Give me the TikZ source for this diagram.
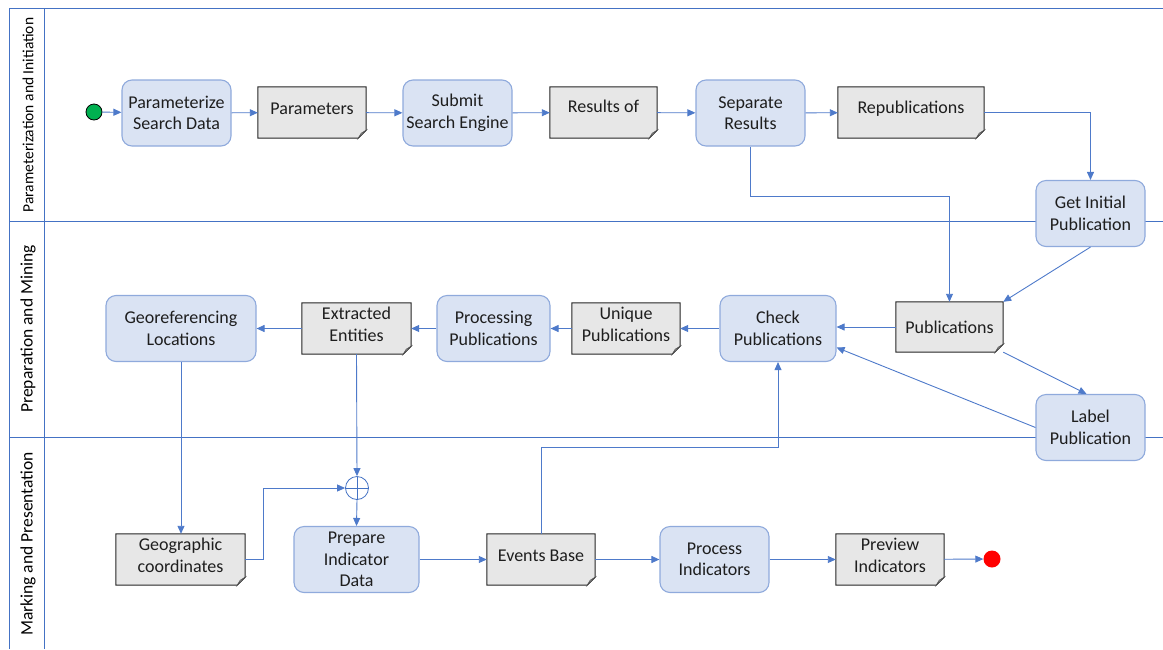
\documentclass[tikz,border=0pt]{standalone}
\usepackage{fontspec}
\setmainfont{Carlito}
\usetikzlibrary{arrows.meta,backgrounds}

\definecolor{lanecol}{RGB}{68,114,196}
\definecolor{flowcol}{RGB}{78,122,202}
\definecolor{taskfill}{RGB}{218,227,243}
\definecolor{taskline}{RGB}{143,170,220}
\definecolor{docfill}{RGB}{231,231,231}
\definecolor{foldfill}{RGB}{160,160,160}
\definecolor{txtcol}{RGB}{30,30,30}
\definecolor{startgreen}{RGB}{0,176,80}
\definecolor{endred}{RGB}{255,0,0}

\tikzset{
  txt/.style={text=txtcol, align=center, font=\fontsize{18}{21.5}\selectfont},
  task/.style={txt, draw=taskline, fill=taskfill, line width=1.1pt, rounded corners=10pt,
    minimum width=109pt, minimum height=66pt, inner sep=2pt},
  docbox/.style={minimum width=108pt, minimum height=51pt, inner sep=0pt},
  doclabel/.style={txt, inner sep=0pt, yshift=4pt},
  flow/.style={draw=flowcol, line width=0.9pt, -{Triangle[length=8pt,width=7pt]}},
  lane/.style={draw=lanecol, line width=0.9pt},
  lanename/.style={rotate=90, text=black}
}

\begin{document}
\begin{tikzpicture}[x=1pt,y=-1pt]
    \useasboundingbox (0,0) rectangle (1163,649);
    \draw[lane] (1163,8) -- (9,8) -- (9,649);
    \draw[lane] (44,8) -- (44,649);
    \draw[lane] (9,221) -- (1163,221);
    \draw[lane] (9,437) -- (1163,437);
    \node[lanename, font=\fontsize{15.5}{17}\selectfont] (lanea) at (28,115) {Parameterization and Initiation};
    \node[lanename, font=\fontsize{17.5}{19}\selectfont] (laneb) at (28,329) {Preparation and Mining};
    \node[lanename, font=\fontsize{17.5}{19}\selectfont] (lanec) at (28,544) {Marking and Presentation};

    \node[circle, draw=black, fill=startgreen, minimum size=16pt, inner sep=0pt, line width=0.8pt] (start) at (94,112) {};
    \node[task] (param) at (176.5,113) {Parameterize\\Search Data};
    \node[docbox, label={[doclabel]center:Parameters}] (params) at (312,112.5) {};
    \node[task] (submit) at (457.5,113) {Submit\\Search Engine};
    \node[docbox, minimum width=107pt, label={[doclabel, yshift=2pt]center:Results of}] (results) at (603.5,112.5) {};
    \node[task] (separate) at (750.5,113) {Separate\\Results};
    \node[docbox, minimum width=146pt, label={[doclabel]center:Republications}] (repub) at (911,112.5) {};
    \node[task] (getinit) at (1090.5,213.5) {Get Initial\\Publication};

    \node[docbox, minimum width=107pt, minimum height=50pt, label={[doclabel, yshift=-4pt]center:Publications}] (pubs) at (949.5,327) {};
    \node[task, minimum width=116pt] (check) at (778,328.5) {Check\\Publications};
    \node[docbox, label={[doclabel]center:{Unique\\Publications}}] (unique) at (626,328.5) {};
    \node[task, minimum width=113pt] (proc) at (493.5,328.5) {Processing\\Publications};
    \node[docbox, minimum width=109pt, label={[doclabel]center:{Extracted\\Entities}}] (extracted) at (356.5,328.5) {};
    \node[task, minimum width=150pt] (georef) at (181,328.5) {Georeferencing\\Locations};
    \node[task] (labelpub) at (1090.5,427.5) {Label\\Publication};

    \node[circle, draw=lanecol, fill=white, minimum size=23pt, inner sep=0pt, line width=0.8pt,
      path picture={\draw[lanecol, line width=0.8pt] (path picture bounding box.north) -- (path picture bounding box.south)
        (path picture bounding box.west) -- (path picture bounding box.east);}] (gw) at (357,488) {};
    \node[docbox, minimum width=129pt, label={[doclabel]center:{Geographic\\coordinates}}] (geo) at (180.5,559.5) {};
    \node[task, minimum width=125pt] (prepare) at (356.5,559.5) {Prepare\\Indicator\\Data};
    \node[docbox, label={[doclabel]center:Events Base}] (events) at (541,559.5) {};
    \node[task] (procind) at (714.5,559.5) {Process\\Indicators};
    \node[docbox, label={[doclabel]center:{Preview\\Indicators}}] (preview) at (890,559.5) {};
    \node[circle, fill=endred, minimum size=17pt, inner sep=0pt] (finish) at (992,559) {};

    \begin{scope}[on background layer]
    \foreach \d in {params,results,repub,pubs,unique,extracted,geo,events,preview}{
      \draw[fill=docfill, draw=black!85, line width=1pt] (\d.north west) -- (\d.north east) -- ([yshift=8pt]\d.south east)
        -- ([xshift=-8pt]\d.south east) -- (\d.south west) -- cycle;
      \draw[fill=foldfill, draw=black!70, line width=0.5pt] ([yshift=8pt]\d.south east) -- ([xshift=-8pt]\d.south east)
        -- ([xshift=-5pt,yshift=5pt]\d.south east) -- cycle;
    }
    \end{scope}

    \draw[flow] (start) -- (param);
    \draw[flow] (param) -- (params);
    \draw[flow] (params) -- (submit);
    \draw[flow] (submit) -- (results);
    \draw[flow] (results) -- (separate);
    \draw[flow] (separate) -- (repub);
    \draw[flow] (repub.east) -| (getinit.north);
    \draw[flow] (separate.south) -- ++(0,50) -| (pubs.north);
    \draw[flow] (getinit.south) -- (pubs.north east);
    \draw[flow] (pubs.west) -- (pubs.west -| check.east);
    \draw[flow] (pubs.south east) -- ([xshift=-4pt]labelpub.north);
    \draw[flow] (labelpub.west) -- ([yshift=-19pt]check.east);
    \draw[flow] (check) -- (unique);
    \draw[flow] (unique) -- (proc);
    \draw[flow] (proc) -- (extracted);
    \draw[flow] (extracted) -- (georef);
    \draw[flow] (georef.south) -- (georef.south |- geo.north);
    \draw[flow] (extracted.south) -- (gw.north);
    \draw[flow] (geo.east) -- ++(18,0) |- (gw.west);
    \draw[flow] (gw.south) -- (prepare.north);
    \draw[flow] (prepare) -- (events);
    \draw[flow] (events.north) -- ++(0,-86) -| (check.south);
    \draw[flow] (events) -- (procind);
    \draw[flow] (procind) -- (preview);
    \draw[flow] (preview) -- (finish);
\end{tikzpicture}
\end{document}
